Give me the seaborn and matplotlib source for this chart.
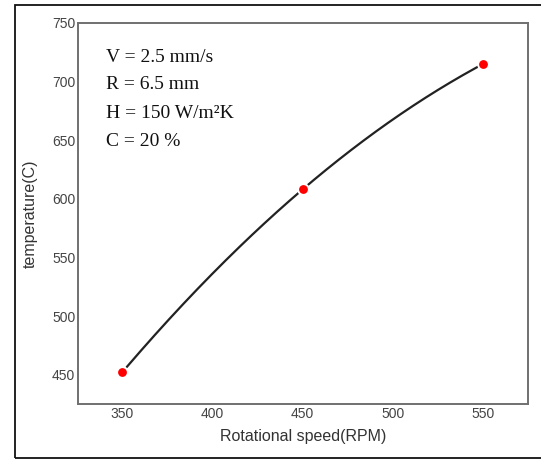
import numpy as np
import pandas as pd
import matplotlib
matplotlib.use("Agg")
import matplotlib.pyplot as plt
import seaborn as sns
from matplotlib.patches import Rectangle

speed = [350, 450, 550]
temperature = [452, 608, 715]
x_ticks = [350, 400, 450, 500, 550]
y_ticks = [450, 500, 550, 600, 650, 700, 750]
params = ["V = 2.5 mm/s", "R = 6.5 mm", "H = 150 W/m\u00b2K", "C = 20 %"]

sns.set_theme(style="white")
plt.rcParams['font.family'] = ['Liberation Sans', 'DejaVu Sans']

fig = plt.figure(figsize=(5.41, 4.59), dpi=100)
W, H = 541, 459
ax = fig.add_axes([78 / W, 1 - 404 / H, (528 - 78) / W, (404 - 23) / H])

# smooth curve through the data points (quadratic)
coef = np.polyfit(speed, temperature, 2)
xs = np.linspace(speed[0] + 2.5, speed[-1] - 2.5, 200)
curve = pd.DataFrame({"x": xs, "y": np.polyval(coef, xs)})
pts = pd.DataFrame({"x": speed, "y": temperature})

sns.lineplot(data=curve, x="x", y="y", ax=ax, color="#222222", linewidth=1.6)
sns.scatterplot(data=pts, x="x", y="y", ax=ax, color="#ff0000", s=60,
                edgecolor="white", linewidth=1.4, zorder=5)

ax.set_xlim(325.5, 575)
ax.set_ylim(425, 750)
ax.set_xticks(x_ticks)
ax.set_yticks(y_ticks)
ax.tick_params(axis="both", length=0, pad=2, labelsize=10, colors="#444444")
for s in ax.spines.values():
    s.set_color("#707070")
    s.set_linewidth(1.4)
ax.set_xlabel("Rotational speed(RPM)", fontsize=11.5, color="#333333", labelpad=6)
ax.set_ylabel("temperature(C)", fontsize=11.5, color="#333333", labelpad=10)

for i, t in enumerate(params):
    fig.text(106 / W, 1 - (57 + 28 * i) / H, t, fontsize=14,
             family=["Liberation Serif", "DejaVu Serif"], color="#111111",
             va="center", ha="left")

# outer frame
fig.patches.append(Rectangle((15 / W, 1 / H), 1.2, (458 - 5) / H,
                             transform=fig.transFigure, fill=False,
                             edgecolor="#111111", linewidth=1.3))

fig.savefig("out.png", dpi=100)
